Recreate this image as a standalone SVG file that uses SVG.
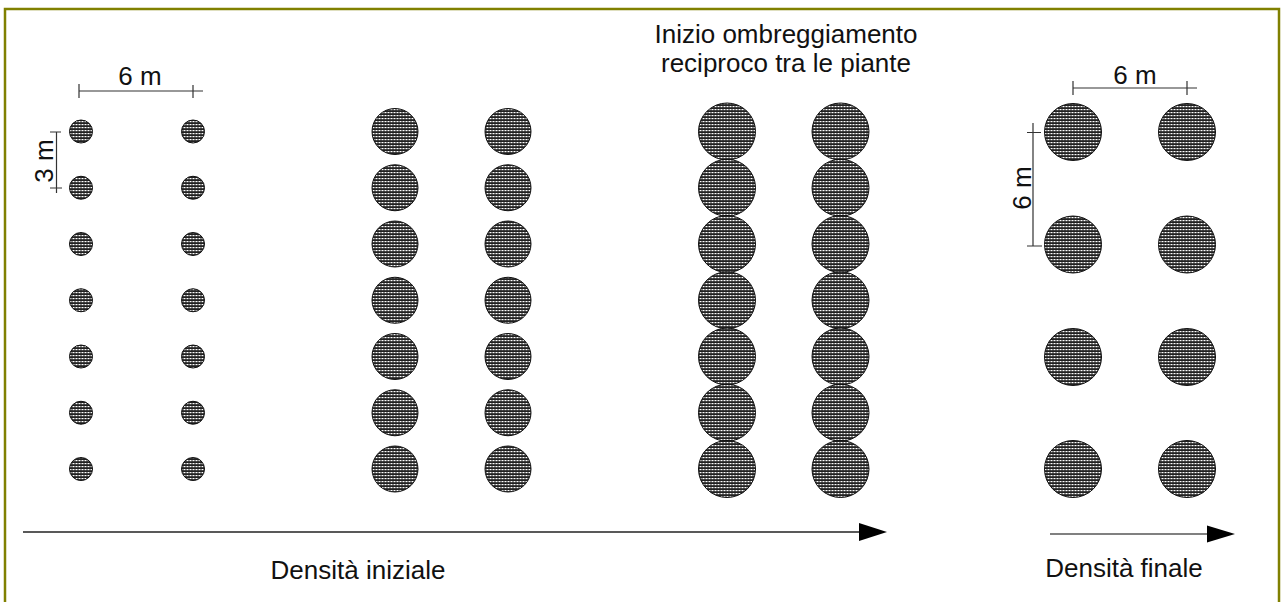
<svg xmlns="http://www.w3.org/2000/svg" width="1283" height="602" viewBox="0 0 1283 602">
<style>
.t{font-family:"Liberation Sans",Arial,sans-serif;font-size:26px;fill:#111}
.tree{fill:url(#dots);stroke:#111;stroke-width:1}
.dim{stroke:#333;stroke-width:1.2;fill:none}
</style>
<defs>
<pattern id="dots" width="3" height="3" patternUnits="userSpaceOnUse">
<rect width="3" height="3" fill="#222"/>
<rect x="0.5" y="1" width="2" height="1.2" fill="#fff"/>
</pattern>
</defs>
<rect x="5" y="9" width="1274" height="600" fill="#fff" stroke="#808000" stroke-width="2.5"/>

<g id="col1">
<circle class="tree" cx="81" cy="131.5" r="11.5"/><circle class="tree" cx="193" cy="131.5" r="11.5"/>
<circle class="tree" cx="81" cy="187.75" r="11.5"/><circle class="tree" cx="193" cy="187.75" r="11.5"/>
<circle class="tree" cx="81" cy="244" r="11.5"/><circle class="tree" cx="193" cy="244" r="11.5"/>
<circle class="tree" cx="81" cy="300.25" r="11.5"/><circle class="tree" cx="193" cy="300.25" r="11.5"/>
<circle class="tree" cx="81" cy="356.5" r="11.5"/><circle class="tree" cx="193" cy="356.5" r="11.5"/>
<circle class="tree" cx="81" cy="412.75" r="11.5"/><circle class="tree" cx="193" cy="412.75" r="11.5"/>
<circle class="tree" cx="81" cy="469" r="11.5"/><circle class="tree" cx="193" cy="469" r="11.5"/>
</g>
<g id="col2">
<circle class="tree" cx="395" cy="131.5" r="23"/><circle class="tree" cx="508" cy="131.5" r="23"/>
<circle class="tree" cx="395" cy="187.75" r="23"/><circle class="tree" cx="508" cy="187.75" r="23"/>
<circle class="tree" cx="395" cy="244" r="23"/><circle class="tree" cx="508" cy="244" r="23"/>
<circle class="tree" cx="395" cy="300.25" r="23"/><circle class="tree" cx="508" cy="300.25" r="23"/>
<circle class="tree" cx="395" cy="356.5" r="23"/><circle class="tree" cx="508" cy="356.5" r="23"/>
<circle class="tree" cx="395" cy="412.75" r="23"/><circle class="tree" cx="508" cy="412.75" r="23"/>
<circle class="tree" cx="395" cy="469" r="23"/><circle class="tree" cx="508" cy="469" r="23"/>
</g>
<g id="col3">
<circle class="tree" cx="727" cy="131.5" r="28.5"/><circle class="tree" cx="840.5" cy="131.5" r="28.5"/>
<circle class="tree" cx="727" cy="187.75" r="28.5"/><circle class="tree" cx="840.5" cy="187.75" r="28.5"/>
<circle class="tree" cx="727" cy="244" r="28.5"/><circle class="tree" cx="840.5" cy="244" r="28.5"/>
<circle class="tree" cx="727" cy="300.25" r="28.5"/><circle class="tree" cx="840.5" cy="300.25" r="28.5"/>
<circle class="tree" cx="727" cy="356.5" r="28.5"/><circle class="tree" cx="840.5" cy="356.5" r="28.5"/>
<circle class="tree" cx="727" cy="412.75" r="28.5"/><circle class="tree" cx="840.5" cy="412.75" r="28.5"/>
<circle class="tree" cx="727" cy="469" r="28.5"/><circle class="tree" cx="840.5" cy="469" r="28.5"/>
</g>
<g id="col4">
<circle class="tree" cx="1073" cy="132" r="28.5"/><circle class="tree" cx="1187" cy="132" r="28.5"/>
<circle class="tree" cx="1073" cy="244.5" r="28.5"/><circle class="tree" cx="1187" cy="244.5" r="28.5"/>
<circle class="tree" cx="1073" cy="357" r="28.5"/><circle class="tree" cx="1187" cy="357" r="28.5"/>
<circle class="tree" cx="1073" cy="469" r="28.5"/><circle class="tree" cx="1187" cy="469" r="28.5"/>
</g>

<g id="connectors">
<path class="dim" d="M79 91H203M79 84V98M193 85V98"/>
<path class="dim" d="M56.5 132V193M50 132H61M50 188H62"/>
<path class="dim" d="M1073 88H1197M1073 81V95M1187 81V95"/>
<path class="dim" d="M1033 123V246M1027 132.5H1041M1027 246H1042"/>
<line x1="23" y1="532" x2="862" y2="532" stroke="#222" stroke-width="1.5"/>
<polygon points="859,523 887,532 859,541" fill="#000"/>
<line x1="1050" y1="534" x2="1210" y2="534" stroke="#808080" stroke-width="2"/>
<polygon points="1207,525.5 1235,534 1207,542.5" fill="#000"/>
</g>

<g id="labels">
<text class="t" x="140" y="85" text-anchor="middle">6 m</text>
<text class="t" x="1135" y="84" text-anchor="middle">6 m</text>
<text class="t" transform="translate(53,161) rotate(-90)" text-anchor="middle">3 m</text>
<text class="t" transform="translate(1031,188) rotate(-90)" text-anchor="middle">6 m</text>
<text class="t" x="786" y="43" text-anchor="middle">Inizio ombreggiamento</text>
<text class="t" x="786" y="72" text-anchor="middle">reciproco tra le piante</text>
<text class="t" x="358" y="579" text-anchor="middle">Densità iniziale</text>
<text class="t" x="1124" y="577" text-anchor="middle">Densità finale</text>
</g>
</svg>
